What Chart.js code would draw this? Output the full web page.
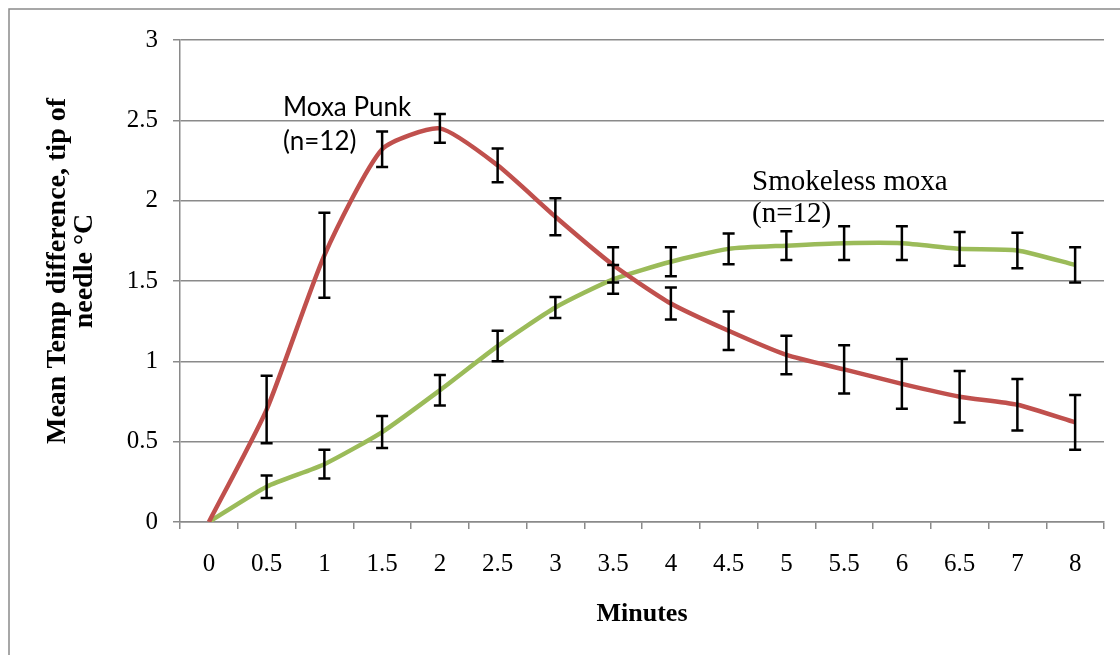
<!DOCTYPE html>
<html>
<head>
<meta charset="utf-8">
<script src="https://cdn.jsdelivr.net/npm/chart.js@4/dist/chart.umd.min.js"></script>
<style>
  html, body { margin: 0; padding: 0; background: #fff; }
  canvas { display: block; }
</style>
</head>
<body>
<canvas id="chart" width="1120" height="655"></canvas>
<script>
// Данные графика
const minutes = ['0', '0.5', '1', '1.5', '2', '2.5', '3', '3.5', '4', '4.5', '5', '5.5', '6', '6.5', '7', '8'];
const moxaPunk = [0, 0.70, 1.66, 2.32, 2.45, 2.22, 1.90, 1.60, 1.36, 1.19, 1.04, 0.95, 0.86, 0.78, 0.73, 0.62];
const moxaPunkErr = [0, 0.21, 0.265, 0.11, 0.09, 0.105, 0.115, 0.11, 0.10, 0.12, 0.12, 0.15, 0.155, 0.16, 0.16, 0.17];
const smokeless = [0, 0.22, 0.36, 0.56, 0.82, 1.095, 1.335, 1.51, 1.62, 1.70, 1.72, 1.735, 1.735, 1.70, 1.69, 1.60];
const smokelessErr = [0, 0.07, 0.09, 0.10, 0.095, 0.095, 0.065, 0.09, 0.09, 0.095, 0.09, 0.105, 0.105, 0.105, 0.11, 0.11];
const yTitle = ['Mean Temp difference, tip of', 'needle °C'];
const xTitle = 'Minutes';

const gridColor = '#8a8a8a';

// Планки погрешностей, подписи серий, заголовок оси Y и рамка
const extras = {
    id: 'extras',
    beforeDraw(chart) {
        const ctx = chart.ctx;
        ctx.save();
        ctx.fillStyle = '#fff';
        ctx.fillRect(0, 0, chart.width, chart.height);
        ctx.strokeStyle = '#8a8a8a';
        ctx.lineWidth = 1.5;
        ctx.strokeRect(9, 9, chart.width + 20, chart.height + 20);
        ctx.restore();
    },
    afterDatasetsDraw(chart) {
        const ctx = chart.ctx;
        const x = chart.scales.x, y = chart.scales.y;
        const errs = [moxaPunkErr, smokelessErr];
        ctx.save();
        ctx.strokeStyle = '#000';
        ctx.lineWidth = 2.5;
        chart.data.datasets.forEach((ds, di) => {
            ds.data.forEach((v, i) => {
                const e = errs[di][i];
                if (!e) return;
                const px = x.getPixelForValue(i);
                const top = y.getPixelForValue(v + e);
                const bot = y.getPixelForValue(v - e);
                ctx.beginPath();
                ctx.moveTo(px, top); ctx.lineTo(px, bot);
                ctx.moveTo(px - 6, top); ctx.lineTo(px + 6, top);
                ctx.moveTo(px - 6, bot); ctx.lineTo(px + 6, bot);
                ctx.stroke();
            });
        });

        // подписи серий
        ctx.fillStyle = '#000';
        ctx.textBaseline = 'alphabetic';
        ctx.textAlign = 'left';
        ctx.font = '26px Lato';
        ctx.fillText('Moxa Punk', 283, 116);
        ctx.fillText('(n=12)', 283, 150);
        ctx.font = '29px "Liberation Serif"';
        ctx.fillText('Smokeless moxa', 752, 190);
        ctx.fillText('(n=12)', 752, 222);

        // заголовок оси Y
        ctx.font = 'bold 28px "Liberation Serif"';
        ctx.textAlign = 'center';
        ctx.textBaseline = 'middle';
        ctx.translate(58, 271);
        ctx.rotate(-Math.PI / 2);
        ctx.fillText(yTitle[0], 0, 0);
        ctx.fillText(yTitle[1], 0, 27);
        ctx.restore();
    }
};

new Chart(document.getElementById('chart').getContext('2d'), {
    type: 'line',
    data: {
        labels: minutes,
        datasets: [{
            label: 'Moxa Punk (n=12)',
            data: moxaPunk,
            borderColor: '#c0504d',
            borderWidth: 4.5,
            pointRadius: 0,
            tension: 0.2,
            fill: false
        }, {
            label: 'Smokeless moxa (n=12)',
            data: smokeless,
            borderColor: '#9bbb59',
            borderWidth: 4.5,
            pointRadius: 0,
            tension: 0.2,
            fill: false
        }]
    },
    options: {
        responsive: false,
        animation: false,
        layout: { padding: { top: 40, right: 16, left: 0, bottom: 0 } },
        plugins: {
            legend: { display: false },
            tooltip: { enabled: false }
        },
        scales: {
            x: {
                offset: true,
                grid: {
                    offset: true,
                    drawOnChartArea: false,
                    color: gridColor,
                    lineWidth: 1.5,
                    tickLength: 7
                },
                border: { color: gridColor, width: 1.5 },
                ticks: {
                    color: '#000',
                    padding: 20,
                    maxRotation: 0,
                    autoSkip: false,
                    font: { family: 'Liberation Serif', size: 25 }
                },
                title: {
                    display: true,
                    text: xTitle,
                    color: '#000',
                    padding: { top: 0, bottom: 25 },
                    font: { family: 'Liberation Serif', size: 26, weight: 'bold' }
                },
                afterFit(scale) { scale.height = 133; }
            },
            y: {
                min: 0,
                max: 3,
                ticks: {
                    stepSize: 0.5,
                    color: '#000',
                    padding: 15,
                    font: { family: 'Liberation Serif', size: 25 },
                    callback: v => String(v)
                },
                grid: { color: gridColor, lineWidth: 1.5, tickLength: 7 },
                border: { color: gridColor, width: 1.5 },
                afterFit(scale) { scale.width = 180; }
            }
        }
    },
    plugins: [extras]
});
</script>
</body>
</html>
